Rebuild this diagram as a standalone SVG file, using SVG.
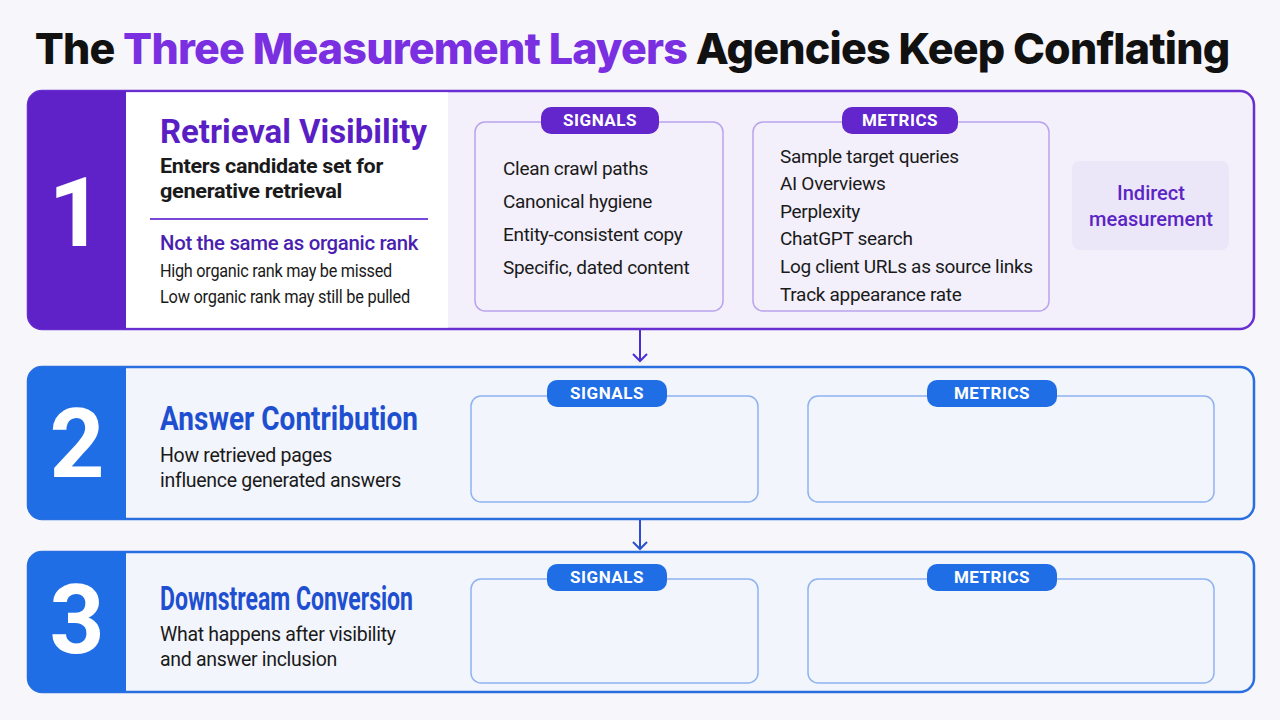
<svg xmlns="http://www.w3.org/2000/svg" width="1280" height="720" viewBox="0 0 1280 720">
<style>
.t{font-family:Roboto,"Liberation Sans",sans-serif}
.num{font-family:Roboto,"Liberation Sans",sans-serif;font-weight:700;font-size:96px;fill:#fff;text-anchor:middle}
.h{font-family:Roboto,"Liberation Sans",sans-serif;font-weight:700;font-size:33px}
.sub{font-family:Roboto,"Liberation Sans",sans-serif;font-size:19.5px;letter-spacing:-0.3px}
.li{font-family:Roboto,"Liberation Sans",sans-serif;font-size:19px;letter-spacing:-0.3px}
.pill{font-family:Roboto,"Liberation Sans",sans-serif;font-weight:700;font-size:17px;fill:#fff;text-anchor:middle;letter-spacing:0.5px}
.pb{fill:none;stroke:#b9a3ec;stroke-width:1.5}
.bb{fill:none;stroke:#8fb2f0;stroke-width:1.5}
</style>
<rect width="1280" height="720" fill="#f7f6fb"/>
<text x="632" y="64" text-anchor="middle" font-family="Inter,Roboto,'Liberation Sans',sans-serif" font-weight="800" font-size="43" fill="#111" letter-spacing="-0.8">The <tspan fill="#7a2fe0">Three Measurement Layers</tspan> Agencies Keep Conflating</text>

<g id="connectors" stroke-width="2" fill="none">
<line x1="640" y1="330" x2="640" y2="361" stroke="#4a2fd0"/>
<path d="M633,354 L640,361 L647,354" stroke="#4a2fd0"/>
<line x1="640" y1="520" x2="640" y2="549" stroke="#2a4fd0"/>
<path d="M633,542 L640,549 L647,542" stroke="#2a4fd0"/>
</g>

<g id="layer1">
<rect x="28" y="91" width="1226" height="238" rx="14" fill="#f3f0fb" stroke="#6a2fd0" stroke-width="2.5"/>
<path d="M42,91 H126 V329 H42 A14,14 0 0 1 28,315 V105 A14,14 0 0 1 42,91 Z" fill="#5e22c8"/>
<rect x="126" y="92.5" width="322" height="235" fill="#fff"/>
<text class="num" x="76" y="246">1</text>
<text class="h" x="160" y="143" fill="#5a1fc4" textLength="267" lengthAdjust="spacingAndGlyphs">Retrieval Visibility</text>
<text class="sub" x="160" y="173" font-weight="700" fill="#1a1a1a" textLength="223" lengthAdjust="spacingAndGlyphs">Enters candidate set for</text>
<text class="sub" x="160" y="198" font-weight="700" fill="#1a1a1a" textLength="182" lengthAdjust="spacingAndGlyphs">generative retrieval</text>
<line x1="150" y1="219" x2="428" y2="219" stroke="#7a48d8" stroke-width="2"/>
<text class="sub" x="160" y="250" fill="#4a1fb0" font-weight="500" textLength="258" lengthAdjust="spacingAndGlyphs">Not the same as organic rank</text>
<text class="li" x="160" y="277" font-size="16.5" fill="#1a1a1a" textLength="232" lengthAdjust="spacingAndGlyphs">High organic rank may be missed</text>
<text class="li" x="160" y="303" font-size="16.5" fill="#1a1a1a" textLength="250" lengthAdjust="spacingAndGlyphs">Low organic rank may still be pulled</text>
<rect class="pb" x="475" y="122" width="248" height="189" rx="10"/>
<rect x="541" y="107" width="118" height="27" rx="10" fill="#6326cc"/>
<text class="pill" x="600" y="126">SIGNALS</text>
<g fill="#1a1a1a">
<text class="li" x="503" y="175">Clean crawl paths</text>
<text class="li" x="503" y="208">Canonical hygiene</text>
<text class="li" x="503" y="241">Entity-consistent copy</text>
<text class="li" x="503" y="274">Specific, dated content</text>
</g>
<rect class="pb" x="753" y="122" width="296" height="189" rx="10"/>
<rect x="842" y="107" width="116" height="27" rx="10" fill="#6326cc"/>
<text class="pill" x="900" y="126">METRICS</text>
<g fill="#1a1a1a">
<text class="li" x="780" y="163">Sample target queries</text>
<text class="li" x="780" y="190">AI Overviews</text>
<text class="li" x="780" y="218">Perplexity</text>
<text class="li" x="780" y="245">ChatGPT search</text>
<text class="li" x="780" y="273">Log client URLs as source links</text>
<text class="li" x="780" y="301">Track appearance rate</text>
</g>
<rect x="1072" y="161" width="157" height="89" rx="8" fill="#ece6f9"/>
<text class="t" x="1151" y="200" text-anchor="middle" font-weight="500" font-size="20" fill="#5a25c4">Indirect</text>
<text class="t" x="1151" y="226" text-anchor="middle" font-weight="500" font-size="20" fill="#5a25c4">measurement</text>
</g>

<g id="layer2">
<rect x="28" y="367" width="1226" height="152" rx="14" fill="#f3f5fc" stroke="#2a6fe0" stroke-width="2.5"/>
<path d="M42,367 H126 V519 H42 A14,14 0 0 1 28,505 V381 A14,14 0 0 1 42,367 Z" fill="#1f6ee6"/>
<text class="num" x="77" y="477" font-size="82">2</text>
<text class="h" x="160" y="430" fill="#1e4fd0" textLength="258" lengthAdjust="spacingAndGlyphs">Answer Contribution</text>
<text class="sub" x="160" y="462" fill="#1a1a1a">How retrieved pages</text>
<text class="sub" x="160" y="487" fill="#1a1a1a">influence generated answers</text>
<rect class="bb" x="471" y="396" width="287" height="106" rx="10"/>
<rect x="547" y="380" width="120" height="27" rx="10" fill="#1f6ee6"/>
<text class="pill" x="607" y="399">SIGNALS</text>
<rect class="bb" x="808" y="396" width="406" height="106" rx="10"/>
<rect x="927" y="380" width="130" height="27" rx="10" fill="#1f6ee6"/>
<text class="pill" x="992" y="399">METRICS</text>
</g>

<g id="layer3">
<rect x="28" y="552" width="1226" height="140" rx="14" fill="#f3f5fc" stroke="#2a6fe0" stroke-width="2.5"/>
<path d="M42,552 H126 V692 H42 A14,14 0 0 1 28,678 V566 A14,14 0 0 1 42,552 Z" fill="#1f6ee6"/>
<text class="num" x="77" y="653" font-size="82">3</text>
<text class="h" x="160" y="610" fill="#1e4fd0" textLength="253" lengthAdjust="spacingAndGlyphs">Downstream Conversion</text>
<text class="sub" x="160" y="641" fill="#1a1a1a">What happens after visibility</text>
<text class="sub" x="160" y="666" fill="#1a1a1a">and answer inclusion</text>
<rect class="bb" x="471" y="579" width="287" height="104" rx="10"/>
<rect x="547" y="564" width="120" height="27" rx="10" fill="#1f6ee6"/>
<text class="pill" x="607" y="583">SIGNALS</text>
<rect class="bb" x="808" y="579" width="406" height="104" rx="10"/>
<rect x="927" y="564" width="130" height="27" rx="10" fill="#1f6ee6"/>
<text class="pill" x="992" y="583">METRICS</text>
</g>
</svg>
